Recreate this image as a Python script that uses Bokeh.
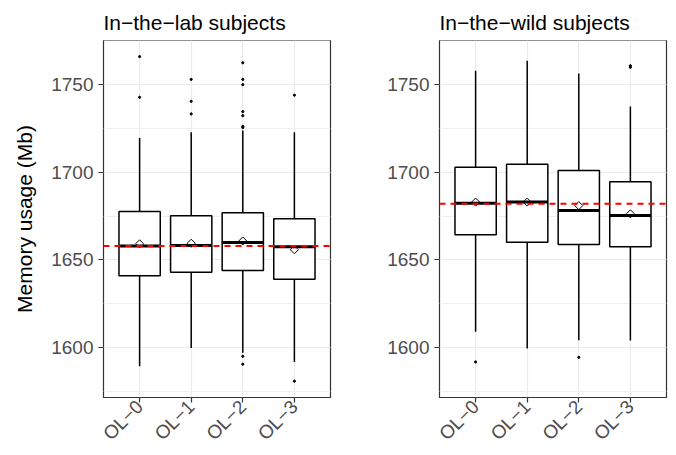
import math
from bokeh.plotting import figure
from bokeh.layouts import row
from bokeh.models import (FactorRange, Range1d, Span, SingleIntervalTicker,
                          ColumnDataSource)
from bokeh.transform import dodge
from bokeh.embed import file_html
from bokeh.resources import INLINE

categories = ["OL−0", "OL−1", "OL−2", "OL−3"]

# In-the-lab subjects
lab_lower = [1589.3, 1599.8, 1597.0, 1591.8]
lab_q1 = [1641.0, 1642.9, 1644.0, 1639.0]
lab_median = [1658.0, 1658.3, 1660.0, 1657.5]
lab_q3 = [1677.6, 1675.2, 1676.9, 1673.5]
lab_upper = [1719.6, 1722.8, 1723.8, 1722.8]
lab_mean = [1659.2, 1659.5, 1660.8, 1655.8]
lab_outliers = [
    [1766.0, 1742.8],
    [1753.0, 1740.5, 1733.3],
    [1762.5, 1753.0, 1750.0, 1734.6, 1732.3, 1726.2, 1725.5, 1595.0, 1590.5],
    [1744.0, 1580.8],
]
lab_overall_mean = 1658.0

# In-the-wild subjects
wild_lower = [1609.0, 1599.4, 1604.1, 1604.0]
wild_q1 = [1664.4, 1660.1, 1658.8, 1657.5]
wild_median = [1682.4, 1683.0, 1678.2, 1675.4]
wild_q3 = [1702.9, 1704.6, 1701.0, 1694.6]
wild_upper = [1758.0, 1763.7, 1756.3, 1737.5]
wild_mean = [1683.0, 1683.0, 1681.0, 1676.3]
wild_outliers = [
    [1591.8],
    [],
    [1594.4],
    [1760.8, 1759.9],
]
wild_overall_mean = 1682.0

y_limits = (1571.5, 1775.2)

FONT = "Liberation Sans"


def make_panel(title, lower, q1, median, q3, upper, mean, outliers, overall,
               width, border_left, border_right, ylabel=None):
    p = figure(
        width=width, height=455,
        x_range=FactorRange(factors=categories, range_padding=0.2,
                            range_padding_units="absolute"),
        y_range=Range1d(*y_limits),
        output_backend="svg", toolbar_location=None,
        min_border_left=border_left, min_border_right=border_right,
        min_border_top=40, min_border_bottom=58,
        title=title,
    )
    p.background_fill_color = "white"
    p.border_fill_color = "white"
    p.outline_line_color = "#333333"
    p.outline_line_width = 1.2

    p.title.text_font = FONT
    p.title.text_font_size = "21px"
    p.title.text_font_style = "normal"
    p.title.text_color = "black"
    p.title.align = "left"
    p.title.standoff = 14

    p.yaxis.ticker = SingleIntervalTicker(interval=50, num_minor_ticks=2)
    for ax in (p.xaxis[0], p.yaxis[0]):
        ax.axis_line_color = None
        ax.major_tick_line_color = "#333333"
        ax.major_tick_line_width = 1.2
        ax.major_tick_out = 5
        ax.major_tick_in = 0
        ax.minor_tick_line_color = None
        ax.major_label_text_font = FONT
        ax.major_label_text_font_size = "19px"
        ax.major_label_text_color = "#4D4D4D"
        ax.major_label_standoff = 5
    p.xaxis.major_label_orientation = math.pi / 4
    p.xaxis.major_label_standoff = 1
    if ylabel:
        p.yaxis.axis_label = ylabel
        p.yaxis.axis_label_text_font = FONT
        p.yaxis.axis_label_text_font_size = "21px"
        p.yaxis.axis_label_text_font_style = "normal"
        p.yaxis.axis_label_text_color = "black"
        p.yaxis.axis_label_standoff = 12

    p.xgrid.grid_line_color = "#EBEBEB"
    p.xgrid.grid_line_width = 1.2
    p.ygrid.grid_line_color = "#EBEBEB"
    p.ygrid.grid_line_width = 1.2
    p.ygrid.minor_grid_line_color = "#F0F0F0"
    p.ygrid.minor_grid_line_width = 1

    src = ColumnDataSource(dict(cat=categories, lower=lower, q1=q1, median=median,
                                q3=q3, upper=upper, mean=mean))
    p.segment(x0="cat", y0="q3", x1="cat", y1="upper", source=src,
              line_color="black", line_width=1.5)
    p.segment(x0="cat", y0="lower", x1="cat", y1="q1", source=src,
              line_color="black", line_width=1.5)
    p.vbar(x="cat", top="q3", bottom="q1", width=0.8, source=src,
           fill_color="white", line_color="black", line_width=1.5)
    p.scatter(x="cat", y="mean", source=src, marker="square", angle=math.pi / 4,
              size=5.7, fill_color=None, line_color="black", line_width=1)
    p.segment(x0=dodge("cat", -0.4, range=p.x_range), y0="median",
              x1=dodge("cat", 0.4, range=p.x_range), y1="median", source=src,
              line_color="black", line_width=3)

    ox, oy = [], []
    for c, vals in zip(categories, outliers):
        for v in vals:
            ox.append(c)
            oy.append(v)
    p.scatter(x=ox, y=oy, size=2.2, color="black")

    p.add_layout(Span(location=overall, dimension="width", line_color="red",
                      line_width=2, line_dash="6 5"))
    return p


p1 = make_panel("In−the−lab subjects", lab_lower, lab_q1, lab_median, lab_q3,
                lab_upper, lab_mean, lab_outliers, lab_overall_mean,
                width=379, border_left=103, border_right=49,
                ylabel="Memory usage (Mb)")
p2 = make_panel("In−the−wild subjects", wild_lower, wild_q1, wild_median, wild_q3,
                wild_upper, wild_mean, wild_outliers, wild_overall_mean,
                width=297, border_left=60, border_right=10)

layout = row(p1, p2)
open("out.html", "w").write(file_html(layout, INLINE))
